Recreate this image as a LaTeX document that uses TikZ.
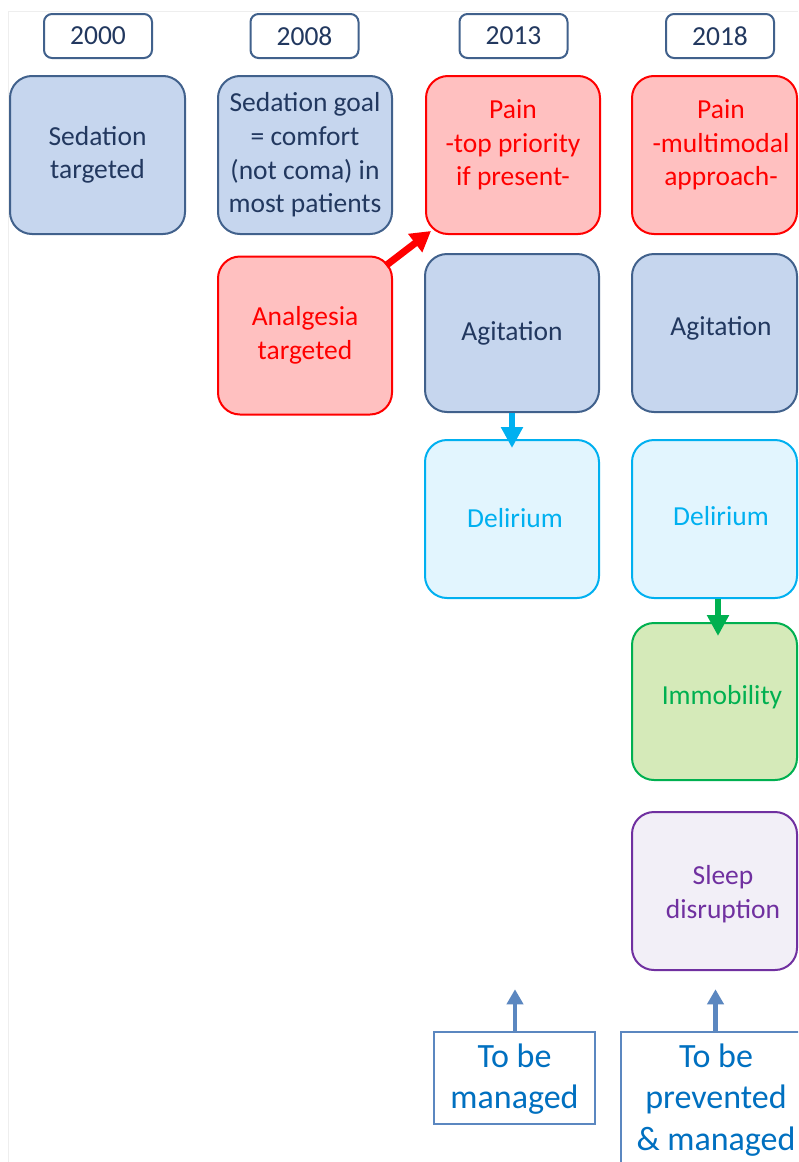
\documentclass[tikz,border=0pt]{standalone}
\usepackage{fontspec}
\setmainfont{Carlito}
\usetikzlibrary{arrows.meta,calc}
\definecolor{bfill}{HTML}{C6D6EE}
\definecolor{bdraw}{HTML}{41618C}
\definecolor{btext}{HTML}{22385F}
\definecolor{rfill}{HTML}{FFC0C0}
\definecolor{rdraw}{HTML}{FF0000}
\definecolor{cfill}{HTML}{E2F5FE}
\definecolor{cdraw}{HTML}{00B0F0}
\definecolor{gfill}{HTML}{D5EAB9}
\definecolor{gdraw}{HTML}{00B050}
\definecolor{pfill}{HTML}{F2EFF7}
\definecolor{pdraw}{HTML}{7030A0}
\definecolor{sdraw}{HTML}{5B87C0}
\definecolor{stext}{HTML}{0070C0}
\definecolor{frame}{HTML}{EEEEEE}
\begin{document}
\begin{tikzpicture}[x=1pt,y=-1pt,
  txt/.style={align=center,inner sep=0pt,font=\fontsize{27.5}{33.6}\selectfont},
  bigtxt/.style={align=center,inner sep=0pt,font=\fontsize{34}{41.5}\selectfont,text=stext},
  card/.style={draw,line width=2pt,rounded corners=22pt,minimum height=158pt,inner sep=0pt,txt},
  bluebox/.style={card,fill=bfill,draw=bdraw,text=btext},
  redbox/.style={card,fill=rfill,draw=rdraw,text=rdraw},
  cyanbox/.style={card,fill=cfill,draw=cdraw,text=cdraw},
  greenbox/.style={card,fill=gfill,draw=gdraw,text=gdraw},
  purplebox/.style={card,fill=pfill,draw=pdraw,text=pdraw},
  yearbox/.style={draw=bdraw,line width=2pt,rounded corners=8pt,minimum width=108pt,minimum height=44pt,inner sep=0pt,txt,text=btext,fill=white},
  notebox/.style={draw=sdraw,line width=1.5pt,inner sep=0pt},
  fatarrow/.style={line width=6pt,-{Triangle[length=21pt,width=21pt]}},
  thinarrow/.style={line width=4.5pt,draw=sdraw,-{Triangle[length=15pt,width=16pt]}}
]
\useasboundingbox (0,0) rectangle (798,1162);
\clip (0,0) rectangle (798,1162);
\fill[white] (0,0) rectangle (798,1162);
\draw[frame,line width=1pt] (8,1162) -- (8,11) -- (798,11);

% year labels
\node[yearbox] (y2000) at (98,36) {2000};
\node[yearbox] (y2008) at (304.5,36) {2008};
\node[yearbox] (y2013) at (513.5,36) {2013};
\node[yearbox] (y2018) at (720,36) {2018};

% 2000
\node[bluebox,minimum width=175pt] (sed) at (97.5,155) {Sedation\\targeted};
% 2008
\node[bluebox,minimum width=174pt] (goal) at (305,155) {Sedation goal\\= comfort\\(not coma) in\\most patients};
\node[redbox,minimum width=174pt] (analg) at (305,335.5) {Analgesia\\targeted};
% 2013
\node[redbox,minimum width=174pt] (pain13) at (513,155) {};
\node[txt,text=rdraw] (pain13t) at (513,145) {Pain\\-top priority\\if present-};
\node[bluebox,minimum width=174pt] (agit13) at (512,333) {Agitation};
\node[cyanbox,minimum width=174pt] (deli13) at (512,519) {};
\node[txt,text=cdraw] (deli13t) at (515,518) {Delirium};
% 2018
\node[redbox,minimum width=165pt] (pain18) at (714.5,155) {};
\node[txt,text=rdraw] (pain18t) at (721,145) {Pain\\-multimodal\\approach-};
\node[bluebox,minimum width=165pt] (agit18) at (714.5,333) {};
\node[txt,text=btext] (agit18t) at (721,328) {Agitation};
\node[cyanbox,minimum width=165pt] (deli18) at (714.5,519) {};
\node[txt,text=cdraw] (deli18t) at (721,516) {Delirium};
\node[greenbox,minimum width=165pt,minimum height=157pt] (immo) at (714.5,701.5) {};
\node[txt,text=gdraw] (immot) at (722,697) {Immobility};
\node[purplebox,minimum width=165pt] (sleep) at (714.5,891) {};
\node[txt,text=pdraw] (sleept) at (723,894) {Sleep\\disruption};

% bottom notes
\node[notebox,minimum width=161pt,minimum height=92pt] (mgd) at (514.5,1078) {};
\node[bigtxt] (mgdt) at (514.5,1079) {To be\\managed};
\node[notebox,minimum width=190pt,minimum height=150pt] (prev) at (716,1107) {};
\node[bigtxt] (prevt) at (716,1100) {To be\\prevented\\\& managed};
\coordinate (up1) at ($(mgd.north)+(0.5,-42)$);
\coordinate (up2) at ($(prev.north)+(-0.5,-42)$);

% arrows
\draw[fatarrow,draw=rdraw,line width=7pt,-{Triangle[length=20pt,width=22pt]}] ($(analg.north east)+(-7,10)$) -- ($(pain13.south west)+(6,-4)$);
\draw[fatarrow,draw=cdraw] (agit13.south) -- ($(deli13.north)+(0,9)$);
\draw[fatarrow,draw=gdraw] ($(deli18.south)+(3.5,0)$) -- ($(immo.north)+(3.5,14)$);
\draw[thinarrow] ($(mgd.north)+(0.5,0)$) -- (up1);
\draw[thinarrow] ($(prev.north)+(-0.5,0)$) -- (up2);
\end{tikzpicture}
\end{document}
